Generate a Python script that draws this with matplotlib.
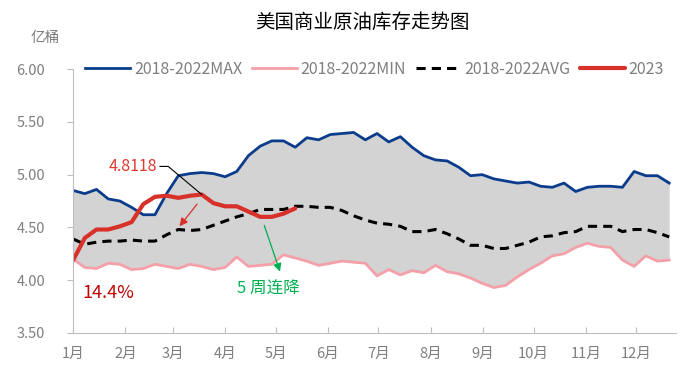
import numpy as np
import matplotlib
matplotlib.use("Agg")
import matplotlib.pyplot as plt

plt.rcParams["font.family"] = ["Noto Sans CJK SC", "DejaVu Sans"]

# weekly values, 亿桶
max_5y = [4.85, 4.82, 4.86, 4.77, 4.75, 4.69, 4.62, 4.62, 4.82, 4.99,
          5.01, 5.02, 5.01, 4.98, 5.03, 5.18, 5.27, 5.32, 5.32, 5.26,
          5.35, 5.33, 5.38, 5.39, 5.40, 5.33, 5.39, 5.31, 5.36, 5.26,
          5.18, 5.14, 5.13, 5.07, 4.99, 5.00, 4.96, 4.94, 4.92, 4.93,
          4.89, 4.88, 4.92, 4.84, 4.88, 4.89, 4.89, 4.88, 5.03, 4.99,
          4.99, 4.92]
min_5y = [4.20, 4.12, 4.11, 4.16, 4.15, 4.10, 4.11, 4.15, 4.13, 4.11,
          4.15, 4.13, 4.10, 4.12, 4.22, 4.13, 4.14, 4.15, 4.24, 4.21,
          4.18, 4.14, 4.16, 4.18, 4.17, 4.16, 4.04, 4.10, 4.05, 4.09,
          4.07, 4.14, 4.08, 4.06, 4.02, 3.97, 3.93, 3.95, 4.03, 4.10,
          4.16, 4.23, 4.25, 4.31, 4.35, 4.32, 4.31, 4.19, 4.13, 4.23,
          4.18, 4.19]
avg_5y = [4.39, 4.34, 4.36, 4.37, 4.37, 4.38, 4.37, 4.37, 4.43, 4.48,
          4.47, 4.48, 4.52, 4.56, 4.60, 4.63, 4.67, 4.67, 4.67, 4.70,
          4.70, 4.69, 4.69, 4.66, 4.61, 4.57, 4.54, 4.53, 4.51, 4.46,
          4.46, 4.48, 4.44, 4.39, 4.33, 4.33, 4.30, 4.30, 4.33, 4.36,
          4.41, 4.42, 4.45, 4.46, 4.51, 4.51, 4.51, 4.46, 4.48, 4.48,
          4.45, 4.41]
y2023 = [4.19, 4.40, 4.48, 4.48, 4.51, 4.55, 4.72, 4.79, 4.80, 4.78,
         4.80, 4.8118, 4.73, 4.70, 4.70, 4.65, 4.60, 4.60, 4.63, 4.68]

months = ["1月", "2月", "3月", "4月", "5月", "6月",
          "7月", "8月", "9月", "10月", "11月", "12月"]
month_start_day = [0, 31, 59, 90, 120, 151, 181, 212, 243, 273, 304, 334]
yticks = [3.50, 4.00, 4.50, 5.00, 5.50, 6.00]

weeks = np.arange(len(max_5y))
w23 = np.arange(len(y2023))
peak = int(np.argmax(y2023))

fig = plt.figure(figsize=(6.9, 3.8), dpi=100)
ax = fig.add_axes([0.106, 0.124, 0.874, 0.694])

ax.fill_between(weeks, min_5y, max_5y, color="#d3d3d3", lw=0)
ax.plot(weeks, max_5y, color="#0b3c8c", lw=2.0, label="2018-2022MAX")
ax.plot(weeks, min_5y, color="#f4a0a9", lw=2.0, label="2018-2022MIN")
ax.plot(weeks, avg_5y, color="black", lw=2.2, ls=(0, (3, 2)), label="2018-2022AVG")
ax.plot(w23, y2023, color="#d7312a", lw=3.0, label="2023", solid_capstyle="round")

ax.set_xlim(0, 51.6)
ax.set_ylim(3.5, 6.0)
ax.set_yticks(yticks)
ax.set_yticklabels([f"{v:.2f}" for v in yticks])
ax.set_xticks(np.array(month_start_day) / 6.93)
ax.set_xticklabels(months)

gray = "#7f7f7f"
for s in ["top", "right"]:
    ax.spines[s].set_visible(False)
for s in ["left", "bottom"]:
    ax.spines[s].set_color("#bfbfbf")
ax.tick_params(axis="y", colors="#bfbfbf", labelcolor=gray, labelsize=10.5,
               length=4, direction="out", pad=16)
ax.tick_params(axis="x", colors="#bfbfbf", labelcolor=gray, labelsize=10.5,
               length=4, direction="in", pad=10)

leg = ax.legend(loc="center", bbox_to_anchor=(0.5, 1.0), ncol=4, frameon=False,
                fontsize=11.5, handlelength=2.8, columnspacing=0.6, handletextpad=0.25,
                borderaxespad=0)
for t in leg.get_texts():
    t.set_color(gray)

fig.text(0.525, 0.94, "美国商业原油库存走势图", ha="center", va="center", fontsize=14)
fig.text(0.065, 0.90, "亿桶", ha="center", va="center", fontsize=10.5, color=gray)

# peak label
ax.annotate(f"{y2023[peak]:.4f}", xy=(peak, y2023[peak]), xytext=(5.1, 5.078),
            ha="center", va="center", fontsize=11.5, color="#e03a2e",
            arrowprops=dict(arrowstyle="-", color="black", lw=0.8, shrinkA=0, shrinkB=0,
                            relpos=(1.05, 0.5),
                            connectionstyle="angle,angleA=0,angleB=140,rad=0"))
ax.annotate("", xy=(9.1, 4.51), xytext=(10.6, 4.72),
            arrowprops=dict(arrowstyle="-|>", color="#d7312a", lw=0.9,
                            mutation_scale=12, shrinkA=0, shrinkB=0))
ax.annotate("", xy=(17.7, 4.08), xytext=(16.35, 4.52),
            arrowprops=dict(arrowstyle="-|>", color="#00b050", lw=0.9,
                            mutation_scale=12, shrinkA=0, shrinkB=0))
ax.text(14.0, 3.91, "5 周连降", color="#00b050", fontsize=12, ha="left", va="center")
ax.text(0.8, 3.88, "14.4%", color="#c00000", fontsize=13, ha="left", va="center")

fig.savefig("out.png", dpi=100)
